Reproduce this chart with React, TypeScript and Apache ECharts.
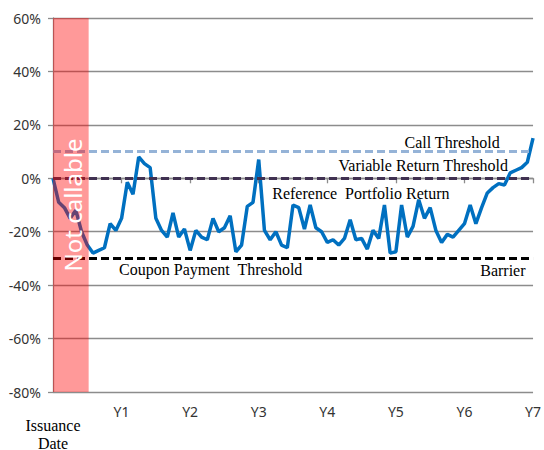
import React, { useEffect, useRef } from "react";
import * as echarts from "echarts";

// Reference portfolio return, monthly from issuance (month 0) to Y7 (month 84), in %
const portfolioReturn = [
  0, -9, -11, -15, -12, -20, -25, -28, -27, -26, -17, -19.5,
  -15, -1.5, -6, 8, 5.5, 4, -15, -19.5, -22, -13, -22, -19,
  -27, -19.5, -22, -23, -15, -20, -18.5, -14, -27.5, -25, -10.5, -9,
  7, -19.5, -23, -20, -25, -26, -10, -11, -19, -10, -18.5, -20,
  -24, -23, -25, -22.5, -15.5, -23, -22.5, -26.5, -19.5, -22.5, -10, -28,
  -27.5, -10, -22, -18, -8, -15, -11, -19.5, -24, -21, -22, -19.5,
  -17, -10, -17, -11, -5.5, -3.5, -2, -2.5, 2, 3, 4, 6,
  15,
];

const callThreshold = 10;
const variableReturnThreshold = 0;
const barrierThreshold = -30;

const notCallableEnd = 0.52; // years

const yTicks = { min: -80, max: 60, interval: 20 };
const xTicks = { min: 0, max: 7, interval: 1 };

const annotationTexts = [
  "Call Threshold",
  "Variable Return Threshold",
  "Reference  Portfolio Return",
  "Coupon Payment  Threshold",
  "Barrier",
];
const annotationX = [5.82, 5.4, 4.49, 2.3, 6.56];
const annotationY = [13.5, 4.9, -5.6, -34.1, -34.5];

const SERIF = "'Liberation Serif', 'Times New Roman', serif";
const SANS = "'Noto Sans', 'Open Sans', sans-serif";

export default function App() {
  const ref = useRef<HTMLDivElement>(null);

  useEffect(() => {
    if (!ref.current) return;
    const chart = echarts.init(ref.current, undefined, { renderer: "svg" });
    const lineData = portfolioReturn.map((v, i) => [i / 12, v]);

    const dashed = (color: string) => ({
      type: [8, 4] as any,
      width: 3.2,
      color,
    });

    chart.setOption({
      animation: false,
      grid: { left: 53, right: 8, top: 18, bottom: 58, containLabel: false },
      xAxis: {
        type: "value",
        min: xTicks.min,
        max: xTicks.max,
        interval: xTicks.interval,
        axisLine: { show: true, lineStyle: { color: "#8c8c8c", width: 1.3 } },
        axisTick: { show: true, length: 5, lineStyle: { color: "#8c8c8c", width: 1.3 } },
        splitLine: { show: false },
        axisLabel: {
          margin: 12,
          fontFamily: SANS,
          fontSize: 14,
          color: "#333",
          formatter: (v: number) => (v === 0 ? "" : "Y" + v),
        },
      },
      yAxis: {
        type: "value",
        min: yTicks.min,
        max: yTicks.max,
        interval: yTicks.interval,
        axisLine: { show: true, lineStyle: { color: "#8c8c8c", width: 1.3 } },
        axisTick: { show: true, length: 5, lineStyle: { color: "#8c8c8c", width: 1.3 } },
        splitLine: { show: true, lineStyle: { color: "#8c8c8c", width: 1.3 } },
        axisLabel: {
          margin: 12,
          fontFamily: SANS,
          fontSize: 14,
          color: "#333",
          formatter: (v: number) => v + "%",
        },
      },
      series: [
        {
          type: "line",
          name: "Reference Portfolio Return",
          data: lineData,
          symbol: "none",
          z: 3,
          lineStyle: { color: "#0070C0", width: 3.5 },
          markLine: {
            silent: true,
            symbol: "none",
            label: { show: false },
            data: [
              { yAxis: callThreshold, lineStyle: dashed("#95B3D7") },
              { yAxis: variableReturnThreshold, lineStyle: dashed("#403151") },
              { yAxis: barrierThreshold, lineStyle: dashed("#000000") },
            ],
          },
        },
        {
          type: "custom",
          name: "Not callable",
          z: 10,
          silent: true,
          data: [[0, yTicks.max, notCallableEnd, yTicks.min]],
          renderItem: (params: any, api: any) => {
            const p1 = api.coord([api.value(0), api.value(1)]);
            const p2 = api.coord([api.value(2), api.value(3)]);
            const cx = (p1[0] + p2[0]) / 2 + 2;
            const cyPt = api.coord([0, -10]);
            return {
              type: "group",
              children: [
                {
                  type: "rect",
                  shape: { x: p1[0], y: p1[1], width: p2[0] - p1[0], height: p2[1] - p1[1] },
                  style: { fill: "rgba(255,0,0,0.4)" },
                },
                {
                  type: "text",
                  x: cx,
                  y: cyPt[1],
                  rotation: Math.PI / 2,
                  style: {
                    text: "Not callable",
                    fill: "#ffffff",
                    font: `24px ${SANS}`,
                    align: "center",
                    verticalAlign: "middle",
                  },
                },
              ],
            };
          },
        },
      ],
    });

    const graphics: any[] = annotationTexts.map((t, i) => {
      const p = chart.convertToPixel({ gridIndex: 0 }, [annotationX[i], annotationY[i]]) as number[];
      return {
        type: "text",
        x: p[0],
        y: p[1],
        z: 20,
        style: {
          text: t,
          font: `16px ${SERIF}`,
          fill: "#000",
          align: "center",
          verticalAlign: "middle",
        },
      };
    });
    const origin = chart.convertToPixel({ gridIndex: 0 }, [0, yTicks.min]) as number[];
    graphics.push({
      type: "text",
      x: origin[0],
      y: origin[1] + 42,
      z: 20,
      style: {
        text: "Issuance\nDate",
        font: `16px ${SERIF}`,
        lineHeight: 18,
        fill: "#000",
        align: "center",
        verticalAlign: "middle",
      },
    });
    chart.setOption({ graphic: graphics });

    return () => chart.dispose();
  }, []);

  return <div ref={ref} style={{ width: 544, height: 450, position: "absolute", left: 0, top: 0 }} />;
}
